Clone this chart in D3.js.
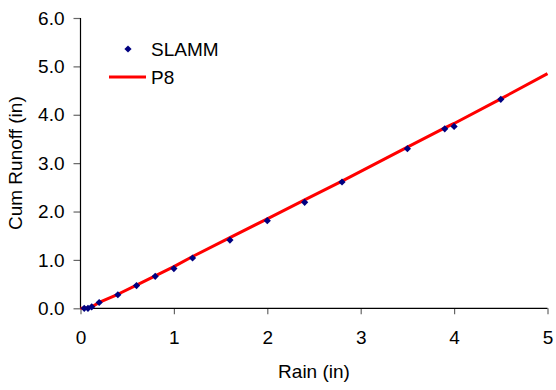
<!DOCTYPE html>
<html>
<head>
<meta charset="utf-8">
<script src="https://cdn.jsdelivr.net/npm/d3@7"></script>
<style>
  html, body { margin: 0; padding: 0; background: #fff; }
  svg { display: block; font-family: "Liberation Sans", Arial, sans-serif; }
</style>
</head>
<body>
<svg id="chart" width="556" height="390"></svg>
<script>
// Data
const slammRain   = [0.04, 0.08, 0.12, 0.2, 0.4, 0.6, 0.8, 1.0, 1.2, 1.6, 2.0, 2.4, 2.8, 3.5, 3.9, 4.0, 4.5];
const slammRunoff = [0.0, 0.0, 0.03, 0.12, 0.28, 0.47, 0.66, 0.82, 1.04, 1.41, 1.81, 2.19, 2.61, 3.30, 3.71, 3.76, 4.32];
const p8Rain   = [0, 0.04, 0.08, 0.12, 0.2, 0.4, 0.6, 0.8, 1.0, 1.2, 1.6, 2.0, 2.4, 2.8, 3.5, 3.9, 4.0, 4.5, 5.0];
const p8Runoff = [0, 0.0, 0.005, 0.03, 0.12, 0.29, 0.48, 0.67, 0.86, 1.07, 1.46, 1.85, 2.24, 2.63, 3.33, 3.73, 3.82, 4.33, 4.85];
const xTicks = [0, 1, 2, 3, 4, 5];
const yTicks = [0, 1, 2, 3, 4, 5, 6];
const seriesNames = ["SLAMM", "P8"];

const svg = d3.select("#chart");
const mLeft = 80.5, mRight = 547.5, mTop = 18, mBottom = 308.3;
const fs = 19;

const x = d3.scaleLinear().domain([0, 5]).range([mLeft, mRight]);
const y = d3.scaleLinear().domain([0, 6]).range([mBottom, mTop]);

// Axes
const xAxis = svg.append("g")
  .attr("transform", `translate(0,${mBottom})`)
  .call(d3.axisBottom(x).tickValues(xTicks).tickFormat(d3.format("d")).tickSize(6).tickPadding(16));
const yAxis = svg.append("g")
  .attr("transform", `translate(${mLeft},0)`)
  .call(d3.axisLeft(y).tickValues(yTicks).tickFormat(d3.format(".1f")).tickSize(7).tickPadding(9));

[xAxis, yAxis].forEach(g => {
  g.select(".domain").remove();
  g.selectAll(".tick line").attr("stroke", "#666").attr("stroke-width", 1.2);
  g.selectAll(".tick text").attr("fill", "#000").attr("font-size", fs)
    .attr("font-family", "Liberation Sans, Arial, sans-serif");
});
svg.append("line").attr("x1", mLeft).attr("x2", mRight).attr("y1", mBottom).attr("y2", mBottom)
  .attr("stroke", "#000").attr("stroke-width", 1.2);
svg.append("line").attr("x1", mLeft).attr("x2", mLeft).attr("y1", mTop).attr("y2", mBottom)
  .attr("stroke", "#000").attr("stroke-width", 1.2);

// P8 line
const p8 = p8Rain.map((r, i) => [r, p8Runoff[i]]);
svg.append("path")
  .datum(p8)
  .attr("fill", "none")
  .attr("stroke", "#ff0000")
  .attr("stroke-width", 3)
  .attr("stroke-linejoin", "round")
  .attr("d", d3.line().x(d => x(d[0])).y(d => y(d[1])));

// SLAMM points (diamonds)
const slamm = slammRain.map((r, i) => [r, slammRunoff[i]]);
svg.append("g").selectAll("path")
  .data(slamm)
  .join("path")
  .attr("d", d3.symbol().type(d3.symbolSquare).size(26))
  .attr("transform", d => `translate(${x(d[0])},${y(d[1])}) rotate(45)`)
  .attr("fill", "#000080");

// Axis titles
svg.append("text")
  .attr("x", (mLeft + mRight) / 2).attr("y", 378)
  .attr("text-anchor", "middle").attr("font-size", fs).attr("fill", "#000")
  .text("Rain (in)");
svg.append("text")
  .attr("transform", `translate(22,${(mTop + mBottom) / 2}) rotate(-90)`)
  .attr("text-anchor", "middle").attr("font-size", fs).attr("fill", "#000")
  .text("Cum Runoff (in)");

// Legend
const lg = svg.append("g");
lg.append("path")
  .attr("d", d3.symbol().type(d3.symbolSquare).size(26))
  .attr("transform", "translate(128,49) rotate(45)")
  .attr("fill", "#000080");
lg.append("text").attr("x", 151).attr("y", 56).attr("font-size", fs).attr("fill", "#000").text(seriesNames[0]);
lg.append("line").attr("x1", 109).attr("x2", 146).attr("y1", 77).attr("y2", 77)
  .attr("stroke", "#ff0000").attr("stroke-width", 3);
lg.append("text").attr("x", 151).attr("y", 84).attr("font-size", fs).attr("fill", "#000").text(seriesNames[1]);
</script>
</body>
</html>
